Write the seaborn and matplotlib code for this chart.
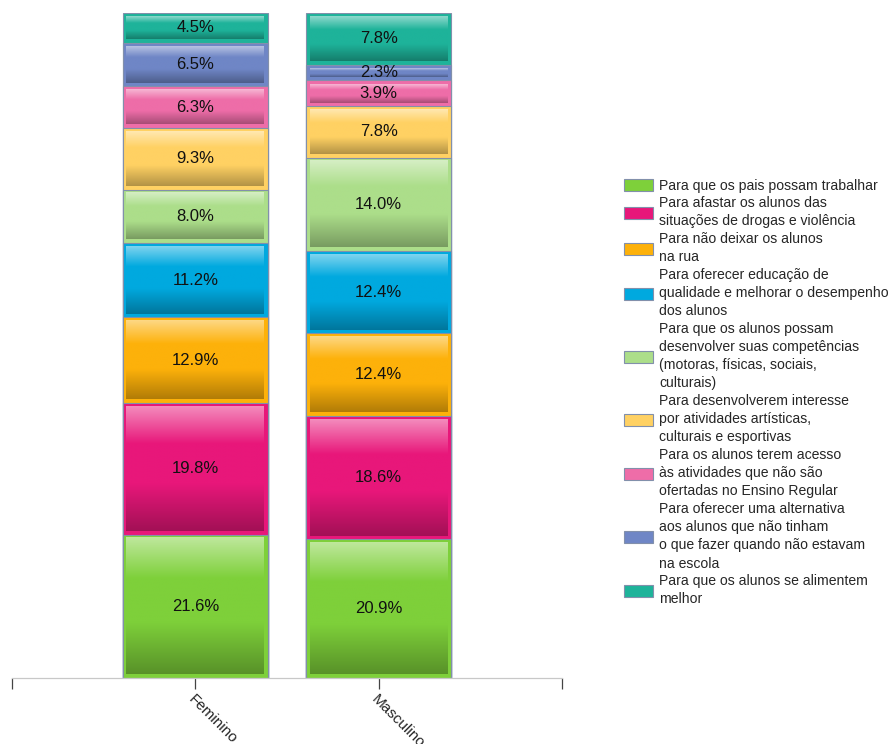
import numpy as np
import pandas as pd
import matplotlib
matplotlib.use("Agg")
import matplotlib.pyplot as plt
import matplotlib.colors as mcolors
from matplotlib.patches import Patch
import seaborn as sns

# Data (stack order: bottom -> top)
groups = ["Feminino", "Masculino"]
reasons = [
    "Para que os pais possam trabalhar",
    "Para afastar os alunos das\nsituações de drogas e violência",
    "Para não deixar os alunos\nna rua",
    "Para oferecer educação de\nqualidade e melhorar o desempenho\ndos alunos",
    "Para que os alunos possam\ndesenvolver suas competências\n(motoras, físicas, sociais,\nculturais)",
    "Para desenvolverem interesse\npor atividades artísticas,\nculturais e esportivas",
    "Para os alunos terem acesso\nàs atividades que não são\nofertadas no Ensino Regular",
    "Para oferecer uma alternativa\naos alunos que não tinham\no que fazer quando não estavam\nna escola",
    "Para que os alunos se alimentem\nmelhor",
]
feminino = [21.6, 19.8, 12.9, 11.2, 8.0, 9.3, 6.3, 6.5, 4.5]
masculino = [20.9, 18.6, 12.4, 12.4, 14.0, 7.8, 3.9, 2.3, 7.8]
colors = ["#7ED03A", "#E8177A", "#FDB10A", "#00A9DF", "#ACDE8A",
          "#FFD163", "#EE6DA8", "#6F86C6", "#1EB39A"]

sns.set_style("white")
plt.rcParams["font.family"] = ["Liberation Sans", "DejaVu Sans"]

fig = plt.figure(figsize=(8.93, 7.44), dpi=100)
ax = fig.add_axes([12 / 893, 1 - 678 / 744, 550 / 893, 665 / 744])

vals = np.array([feminino, masculino])  # shape (groups, reasons)
cum = np.cumsum(vals, axis=1)
bar_w = 0.79

# draw cumulative bars from top layer down so lower layers overdraw
for j in range(len(reasons) - 1, -1, -1):
    df = pd.DataFrame({"grupo": groups, "top": cum[:, j]})
    sns.barplot(data=df, x="grupo", y="top", color=colors[j], width=bar_w,
                saturation=1, edgecolor="#8290ab", linewidth=0.8, ax=ax,
                zorder=2)


def gradient(base, n=200):
    rgb = np.array(mcolors.to_rgb(base))
    t = np.linspace(0, 1, n)
    light = rgb + (1 - rgb) * 0.5
    dark = rgb * 0.7
    out = np.empty((n, 3))
    for i, tt in enumerate(t):
        if tt < 0.3:
            f = tt / 0.3
            out[i] = light * (1 - f) + rgb * f
        elif tt < 0.62:
            out[i] = rgb
        else:
            f = (tt - 0.62) / 0.38
            out[i] = rgb * (1 - f) + dark * f
    return out[:, None, :]


dx = 3.5 / 184
dy = 3.5 * 100.1 / 665
for g in range(len(groups)):
    bottom = 0.0
    for j in range(len(reasons)):
        v = vals[g, j]
        x0, x1 = g - bar_w / 2 + dx, g + bar_w / 2 - dx
        y0, y1 = bottom + dy, bottom + v - dy
        if y1 > y0:
            ax.imshow(gradient(colors[j]), extent=[x0, x1, y0, y1],
                      aspect="auto", origin="upper", zorder=3,
                      interpolation="bilinear")
        ax.text(g, bottom + v / 2, f"{v:.1f}%", ha="center", va="center",
                fontsize=12, color="#111111", zorder=4)
        bottom += v

ax.set_xlim(-1, 2)
ax.set_ylim(0, 100.1)
ax.set_xticks([-1, 0, 1, 2])
ax.set_xticklabels(["", "Feminino", "Masculino", ""], rotation=-45,
                   ha="left", rotation_mode="anchor", fontsize=11)
ax.tick_params(axis="x", length=8, width=0.9, color="#444444", pad=2,
               bottom=True)
ax.set_yticks([])
ax.set_xlabel("")
ax.set_ylabel("")
for s in ["top", "right", "left"]:
    ax.spines[s].set_visible(False)
ax.spines["bottom"].set_color("#c8c8c8")
ax.spines["bottom"].set_linewidth(0.9)
ax.patch.set_alpha(0)

handles = [Patch(facecolor=c, edgecolor="#8290ab", linewidth=0.8) for c in colors]
leg = fig.legend(handles, reasons, loc="upper left",
                 bbox_to_anchor=(618 / 893, 1 - 173 / 744), frameon=False,
                 fontsize=10.1, handlelength=2.1, handleheight=0.9,
                 handletextpad=0.45, labelspacing=0.26, borderaxespad=0)
for t in leg.get_texts():
    t.set_linespacing(1.38)

fig.savefig("out.png", dpi=100)
